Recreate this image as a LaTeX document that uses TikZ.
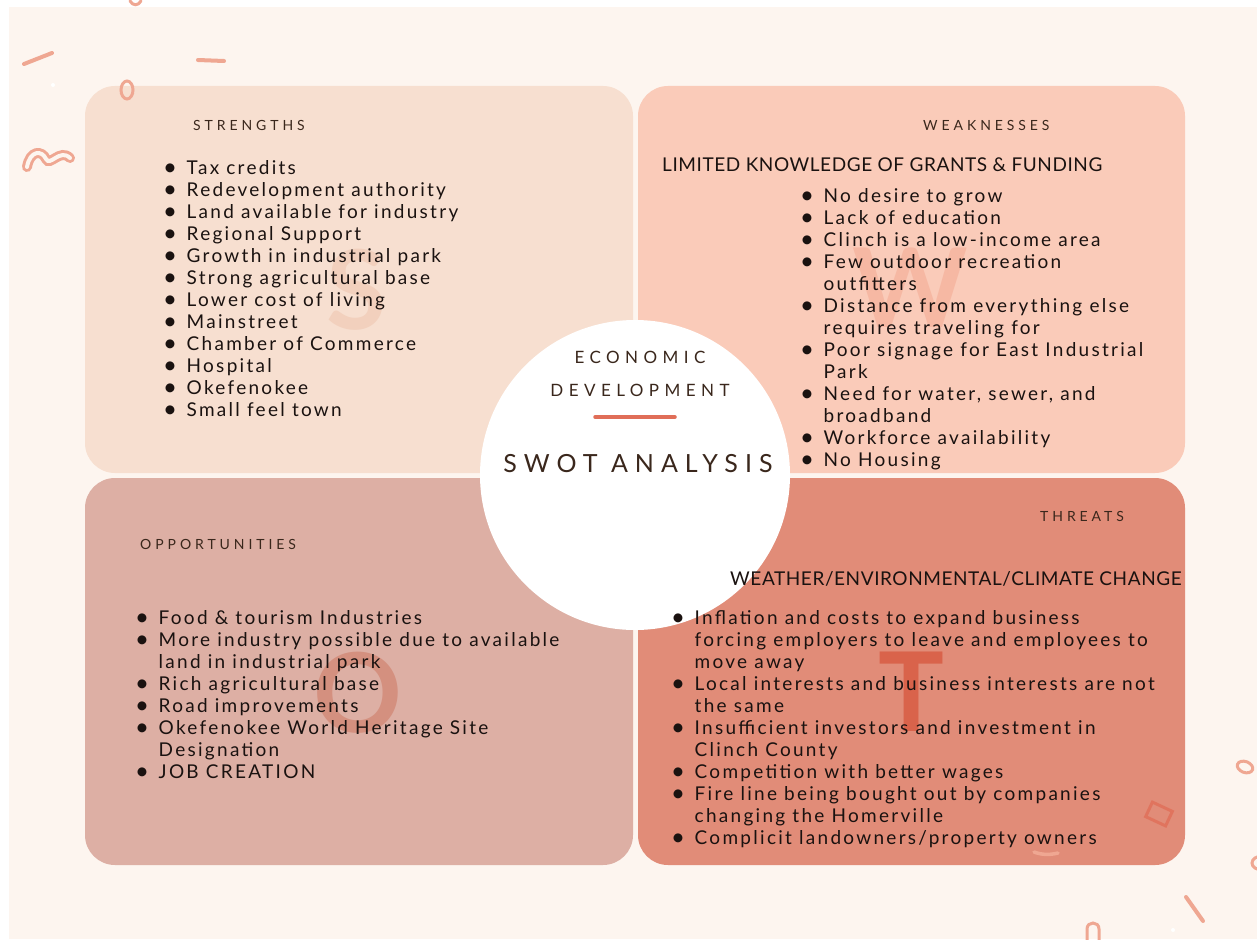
\documentclass[tikz,border=0pt]{standalone}
\usepackage{fontspec}
\setmainfont{Lato}
\newfontfamily\bodyfont[LetterSpace=12]{Lato}
\newfontfamily\headfont[LetterSpace=28]{Lato}
\newfontfamily\circfont[LetterSpace=32]{Lato}
\newfontfamily\capsfont[LetterSpace=3]{Lato}
\newfontfamily\bigfont{Lato}
\definecolor{cream}{HTML}{FDF5EF}
\definecolor{sfill}{HTML}{F7DFD0}
\definecolor{wfill}{HTML}{FACBB9}
\definecolor{ofill}{HTML}{DDAFA4}
\definecolor{tfill}{HTML}{E18C78}
\definecolor{accent}{HTML}{E06E58}
\definecolor{decoc}{HTML}{EFA792}
\definecolor{headc}{HTML}{3A271C}
\definecolor{bodyc}{HTML}{1A1210}
\definecolor{sletter}{HTML}{F2D0BD}
\definecolor{wletter}{HTML}{F6B8A3}
\definecolor{oletter}{HTML}{D4907F}
\definecolor{tletter}{HTML}{D9634B}
\newcommand\mybul{\makebox[22.5pt][l]{\hspace{-1pt}\raisebox{-1.2pt}{\fontsize{24}{22}\selectfont\textbullet}}}
\begin{document}
\begin{tikzpicture}[x=1pt,y=-1pt,
  quad/.style={rounded corners=30pt, inner sep=0pt, minimum width=548pt, minimum height=387pt},
  heading/.style={anchor=base west, inner sep=0pt, text=headc, font=\headfont\fontsize{14}{14}\selectfont},
  subhead/.style={anchor=base west, inner sep=0pt, text=bodyc, font=\capsfont\fontsize{19}{19}\selectfont},
  lst/.style={anchor=north west, inner sep=0pt, text=bodyc, font=\bodyfont\fontsize{19}{22}\selectfont},
  bigletter/.style={inner sep=0pt, font=\bigfont\bfseries\fontsize{110}{110}\selectfont},
  deco/.style={draw=decoc, line width=4pt, line cap=round},
  circtext/.style={inner sep=0pt, text=headc}
]
\useasboundingbox (0,0) rectangle (1257,939);
\fill[white] (0,0) rectangle (1257,939);
\fill[cream] (9,7) rectangle (1257,939);

% decorations on the background
\draw[deco] (24,64) -- (52,53);
\draw[deco] (198,60) -- (224,61);
\draw[decoc, line width=3pt, line cap=round, double=cream, double distance=4pt]
  (27,167) .. controls (30,150) and (42,150) .. (46,159) .. controls (50,167) and (60,148) .. (70,158);
\draw[deco, line width=3pt] (130,1) .. controls (133,6) and (138,6) .. (141,1);
\fill[white] (53,85) circle (2pt);

% quadrants
\node[quad, fill=sfill] (S) at (359,279.5) {};
\node[quad, fill=wfill, minimum width=547pt] (W) at (911.5,279.5) {};
\node[quad, fill=ofill] (O) at (359,671.5) {};
\node[quad, fill=tfill, minimum width=547pt] (T) at (911.5,671.5) {};

\draw[deco, line width=3pt] (127,90) ellipse [x radius=6pt, y radius=9pt];

% faint big letters
\node[bigletter, text=sletter] (bigS) at (357,290) {S};
\node[bigletter, text=wletter] (bigW) at (910,288) {W};
\node[bigletter, text=oletter] (bigO) at (358,693) {O};
\node[bigletter, text=tletter] (bigT) at (911,692) {T};

% decorations on the threats box and around
\draw[draw=accent!80!tfill, line width=3pt, rotate around={-25:(1159,814)}] (1148,806) rectangle (1170,822);
\draw[deco, line width=3.5pt] (1034,852) .. controls (1042,855) and (1050,855) .. (1058,853);
\draw[deco, line width=3pt, rotate around={-20:(1245,767)}] (1245,767) ellipse [x radius=8pt, y radius=5.5pt];
\draw[deco, line width=3pt] (1262,863) ellipse [x radius=10pt, y radius=7pt];
\draw[deco] (1186,897) -- (1203,921);
\fill[white] (1173,930) circle (2pt);
\draw[deco, line width=3pt] (1087,942) -- (1087,929) .. controls (1087,921) and (1099,921) .. (1099,929) -- (1099,942);

% centre circle
\node[circle, fill=white, inner sep=0pt, minimum size=310pt] (C) at (635,475) {};
\node[circtext, font=\circfont\fontsize{17}{17}\selectfont] (econ) at (640,357) {ECONOMIC};
\node[circtext, font=\circfont\fontsize{17}{17}\selectfont] (dev) at (640,390) {DEVELOPMENT};
\draw[accent, line width=3.5pt, line cap=round] (595,417) -- (675,417);
\node[circtext, font=\headfont\fontsize{25}{25}\selectfont] (swot) at (638,464) {SWOT ANALYSIS};

% headings
\node[heading] (hS) at (193,131) {STRENGTHS};
\node[heading] (hW) at (923,131) {WEAKNESSES};
\node[heading] (hO) at (140,549) {OPPORTUNITIES};
\node[heading] (hT) at (1040,521) {THREATS};
\node[subhead] (subW) at (662,171) {LIMITED KNOWLEDGE OF GRANTS \& FUNDING};
\node[subhead] (subT) at (730,585) {WEATHER/ENVIRONMENTAL/CLIMATE CHANGE};

% lists
\node[lst] (lS) at (164,158.6) {\begin{tabular}{@{}l@{}l@{}}
\mybul & Tax credits\\
\mybul & Redevelopment authority\\
\mybul & Land available for industry\\
\mybul & Regional Support\\
\mybul & Growth in industrial park\\
\mybul & Strong agricultural base\\
\mybul & Lower cost of living\\
\mybul & Mainstreet\\
\mybul & Chamber of Commerce\\
\mybul & Hospital\\
\mybul & Okefenokee\\
\mybul & Small feel town
\end{tabular}};

\node[lst] (lW) at (801,186.6) {\begin{tabular}{@{}l@{}l@{}}
\mybul & No desire to grow\\
\mybul & Lack of education\\
\mybul & Clinch is a low-income area\\
\mybul & Few outdoor recreation\\
 & outfitters\\
\mybul & Distance from everything else\\
 & requires traveling for\\
\mybul & Poor signage for East Industrial\\
 & Park\\
\mybul & Need for water, sewer, and\\
 & broadband\\
\mybul & Workforce availability\\
\mybul & No Housing
\end{tabular}};

\node[lst] (lO) at (136,608.6) {\begin{tabular}{@{}l@{}l@{}}
\mybul & Food \& tourism Industries\\
\mybul & More industry possible due to available\\
 & land in industrial park\\
\mybul & Rich agricultural base\\
\mybul & Road improvements\\
\mybul & Okefenokee World Heritage Site\\
 & Designation\\
\mybul & JOB CREATION
\end{tabular}};

\node[lst] (lT) at (672,608.6) {\begin{tabular}{@{}l@{}l@{}}
\mybul & Inflation and costs to expand business\\
 & forcing employers to leave and employees to\\
 & move away\\
\mybul & Local interests and business interests are not\\
 & the same\\
\mybul & Insufficient investors and investment in\\
 & Clinch County\\
\mybul & Competition with better wages\\
\mybul & Fire line being bought out by companies\\
 & changing the Homerville\\
\mybul & Complicit landowners/property owners
\end{tabular}};
\end{tikzpicture}
\end{document}
